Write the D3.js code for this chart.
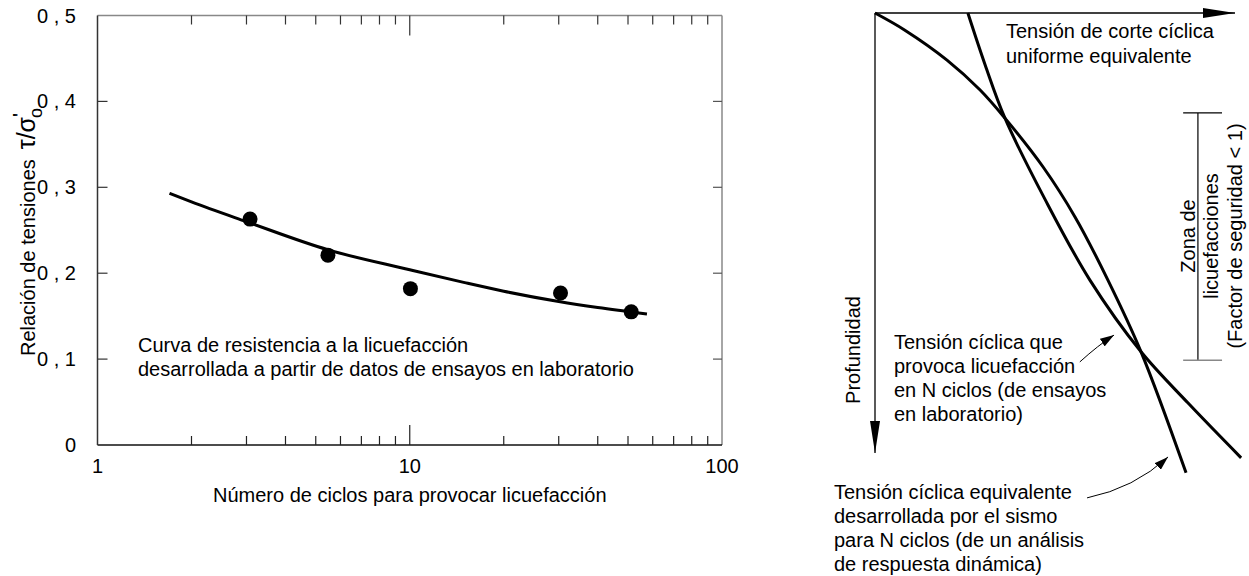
<!doctype html>
<html>
<head>
<meta charset="utf-8">
<title>Curva de resistencia a la licuefacción</title>
<script src="https://cdnjs.cloudflare.com/ajax/libs/d3/7.8.5/d3.min.js"></script>
<style>
  body { margin: 0; background: #fff; }
  svg text { font-family: "Liberation Sans", Arial, sans-serif; fill: #000; font-size: 20px; }
</style>
</head>
<body>
<div id="chart"></div>
<script>
// ---- left chart: lab tests ----
const ciclos   = [3.08, 5.47, 10.05, 30.4, 51.2];
const relacion = [0.263, 0.221, 0.182, 0.177, 0.155];

// resistance curve
const curvaN = [1.7, 2, 3, 5.5, 10, 15, 20, 30, 40, 57.5];
const curvaR = [0.293, 0.283, 0.260, 0.227, 0.204, 0.189, 0.179, 0.167, 0.160, 0.1525];

const yTicks      = [0, 0.1, 0.2, 0.3, 0.4, 0.5];
const yTickLabels = ["0", "0 , 1", "0 , 2", "0 , 3", "0 , 4", "0 , 5"];
const xTicks      = [1, 10, 100];
const xTickLabels = ["1", "10", "100"];
const xMinor      = [2, 3, 4, 5, 6, 7, 8, 9, 20, 30, 40, 50, 60, 70, 80, 90];

// ---- right sketch: stress vs depth (normalised units) ----
const sismoX  = [0, 0.083, 0.200, 0.292, 0.361, 0.467, 0.556, 0.647, 0.739, 0.864];
const sismoY  = [0, 0.039, 0.107, 0.175, 0.239, 0.350, 0.464, 0.607, 0.770, 1.045];
const resistX = [0.258, 0.306, 0.361, 0.472, 0.597, 0.739, 0.869, 1.017];
const resistY = [0, 0.118, 0.239, 0.423, 0.607, 0.770, 0.886, 1.011];

const svg = d3.select('#chart').append('svg')
  .attr('width', 1249)
  .attr('height', 576);

// scales
const x = d3.scaleLog().domain([1, 100]).range([97.5, 722]);
const y = d3.scaleLinear().domain([0, 0.5]).range([445, 15.5]);

const left = svg.append('g');

// frame: top/right grey, bottom/left dark
left.append('line').attr('x1', x(1)).attr('x2', x(100)).attr('y1', y(0.5)).attr('y2', y(0.5))
  .attr('stroke', '#888').attr('stroke-width', 1.5);
left.append('line').attr('x1', x(100)).attr('x2', x(100)).attr('y1', y(0.5)).attr('y2', y(0))
  .attr('stroke', '#888').attr('stroke-width', 1.5);
left.append('line').attr('x1', x(1)).attr('x2', x(100)).attr('y1', y(0)).attr('y2', y(0))
  .attr('stroke', '#111').attr('stroke-width', 1.5);
left.append('line').attr('x1', x(1)).attr('x2', x(1)).attr('y1', y(0.5)).attr('y2', y(0))
  .attr('stroke', '#333').attr('stroke-width', 1.5);

// y ticks, inside on both sides
left.selectAll('.ytl').data(yTicks.slice(1, -1)).join('line')
  .attr('x1', x(1)).attr('x2', x(1) + 10)
  .attr('y1', d => y(d)).attr('y2', d => y(d))
  .attr('stroke', '#333').attr('stroke-width', 1.2);
left.selectAll('.ytr').data(yTicks.slice(1, -1)).join('line')
  .attr('x1', x(100)).attr('x2', x(100) - 9)
  .attr('y1', d => y(d)).attr('y2', d => y(d))
  .attr('stroke', '#555').attr('stroke-width', 1.2);

left.selectAll('.ylab').data(yTicks).join('text')
  .attr('x', 76).attr('y', d => y(d) + 7)
  .attr('text-anchor', 'end')
  .text((d, i) => yTickLabels[i]);

// x ticks, minor + major at 10, bottom and top
const xt = xMinor.map(v => ({ v, len: 9 })).concat([{ v: 10, len: 20 }]);
left.selectAll('.xtb').data(xt).join('line')
  .attr('x1', d => x(d.v)).attr('x2', d => x(d.v))
  .attr('y1', y(0)).attr('y2', d => y(0) - d.len)
  .attr('stroke', '#222').attr('stroke-width', 1.2);
left.selectAll('.xtt').data(xt).join('line')
  .attr('x1', d => x(d.v)).attr('x2', d => x(d.v))
  .attr('y1', y(0.5)).attr('y2', d => y(0.5) + d.len)
  .attr('stroke', '#333').attr('stroke-width', 1.2);

left.selectAll('.xlab').data(xTicks).join('text')
  .attr('x', d => x(d)).attr('y', 473)
  .attr('text-anchor', 'middle')
  .text((d, i) => xTickLabels[i]);

left.append('text')
  .attr('x', x(10)).attr('y', 502)
  .attr('text-anchor', 'middle')
  .text('Número de ciclos para provocar licuefacción');

// y title
const yt = left.append('text')
  .attr('transform', 'translate(35,232) rotate(-90)')
  .attr('text-anchor', 'middle');
yt.append('tspan').text('Relación de tensiones');
yt.append('tspan').attr('dx', 10).style('font-size', '25px').text('τ/σ');
yt.append('tspan').attr('dy', -8).style('font-size', '21px').text("'");
yt.append('tspan').attr('dx', -5).attr('dy', 15).style('font-size', '18px').text('o');

// curve
const curva = curvaN.map((n, i) => [n, curvaR[i]]);
left.append('path')
  .datum(curva)
  .attr('fill', 'none')
  .attr('stroke', '#000')
  .attr('stroke-width', 3)
  .attr('d', d3.line().x(d => x(d[0])).y(d => y(d[1])).curve(d3.curveMonotoneX));

// points
left.selectAll('circle').data(ciclos).join('circle')
  .attr('cx', d => x(d))
  .attr('cy', (d, i) => y(relacion[i]))
  .attr('r', 7.5)
  .attr('fill', '#000');

const note = left.append('text');
note.append('tspan').attr('x', 138).attr('y', 352).text('Curva de resistencia a la licuefacción');
note.append('tspan').attr('x', 138).attr('y', 376).text('desarrollada a partir de datos de ensayos en laboratorio');

// ---- right sketch ----
const sx = d3.scaleLinear().domain([0, 1]).range([875, 1235]);
const sy = d3.scaleLinear().domain([0, 1]).range([13, 453]);
const right = svg.append('g');

const defs = svg.append('defs');
defs.append('marker').attr('id', 'big')
  .attr('viewBox', '0 0 32 10').attr('refX', 32).attr('refY', 5)
  .attr('markerWidth', 32).attr('markerHeight', 10)
  .attr('markerUnits', 'userSpaceOnUse').attr('orient', 'auto')
  .append('path').attr('d', 'M0,0 L32,5 L0,10 Z').attr('fill', '#000');
defs.append('marker').attr('id', 'small')
  .attr('viewBox', '0 0 14 9').attr('refX', 14).attr('refY', 4.5)
  .attr('markerWidth', 14).attr('markerHeight', 9)
  .attr('markerUnits', 'userSpaceOnUse').attr('orient', 'auto')
  .append('path').attr('d', 'M0,0 L14,4.5 L0,9 Z').attr('fill', '#000');

// axes arrows
right.append('line').attr('x1', sx(0)).attr('y1', sy(0)).attr('x2', sx(1)).attr('y2', sy(0))
  .attr('stroke', '#000').attr('stroke-width', 1.3).attr('marker-end', 'url(#big)');
right.append('line').attr('x1', sx(0)).attr('y1', sy(0)).attr('x2', sx(0)).attr('y2', sy(1))
  .attr('stroke', '#000').attr('stroke-width', 1.3).attr('marker-end', 'url(#big)');

const lineS = d3.line().x(d => sx(d[0])).y(d => sy(d[1])).curve(d3.curveCatmullRom.alpha(0.5));
right.append('path')
  .datum(sismoX.map((v, i) => [v, sismoY[i]]))
  .attr('fill', 'none').attr('stroke', '#000').attr('stroke-width', 3)
  .attr('d', lineS);
right.append('path')
  .datum(resistX.map((v, i) => [v, resistY[i]]))
  .attr('fill', 'none').attr('stroke', '#000').attr('stroke-width', 3)
  .attr('d', lineS);

// liquefaction zone bracket
right.append('line').attr('x1', sx(0.897)).attr('x2', sx(0.897)).attr('y1', sy(0.227)).attr('y2', sy(0.789))
  .attr('stroke', '#000').attr('stroke-width', 1.2);
right.append('line').attr('x1', sx(0.856)).attr('x2', sx(0.964)).attr('y1', sy(0.227)).attr('y2', sy(0.227))
  .attr('stroke', '#000').attr('stroke-width', 1.2);
right.append('line').attr('x1', sx(0.856)).attr('x2', sx(0.964)).attr('y1', sy(0.789)).attr('y2', sy(0.789))
  .attr('stroke', '#888').attr('stroke-width', 1.5);

// annotation arrows
right.append('path')
  .attr('d', `M${sx(0.569)},${sy(0.793)} Q${sx(0.62)},${sy(0.755)} ${sx(0.664)},${sy(0.732)}`)
  .attr('fill', 'none').attr('stroke', '#000').attr('stroke-width', 1)
  .attr('marker-end', 'url(#small)');
right.append('path')
  .attr('d', `M${sx(0.589)},${sy(1.102)} Q${sx(0.72)},${sy(1.08)} ${sx(0.814)},${sy(1.009)}`)
  .attr('fill', 'none').attr('stroke', '#000').attr('stroke-width', 1)
  .attr('marker-end', 'url(#small)');

// texts
const t1 = right.append('text');
t1.append('tspan').attr('x', 1006).attr('y', 38).text('Tensión de corte cíclica');
t1.append('tspan').attr('x', 1006).attr('y', 63).text('uniforme equivalente');

const t2 = right.append('text');
['Tensión cíclica que', 'provoca licuefacción', 'en N ciclos (de ensayos', 'en laboratorio)']
  .forEach((s, i) => t2.append('tspan').attr('x', 894).attr('y', 349 + i * 24).text(s));

const t3 = right.append('text');
['Tensión cíclica equivalente', 'desarrollada por el sismo', 'para N ciclos (de un análisis', 'de respuesta dinámica)']
  .forEach((s, i) => t3.append('tspan').attr('x', 834).attr('y', 499 + i * 24).text(s));

right.append('text')
  .attr('transform', 'translate(860,350) rotate(-90)')
  .attr('text-anchor', 'middle')
  .text('Profundidad');

[['Zona de', 1195], ['licuefacciones', 1218], ['(Factor de seguridad < 1)', 1242]].forEach(([s, bx]) => {
  right.append('text')
    .attr('transform', `translate(${bx},236) rotate(-90)`)
    .attr('text-anchor', 'middle')
    .text(s);
});
</script>
</body>
</html>
